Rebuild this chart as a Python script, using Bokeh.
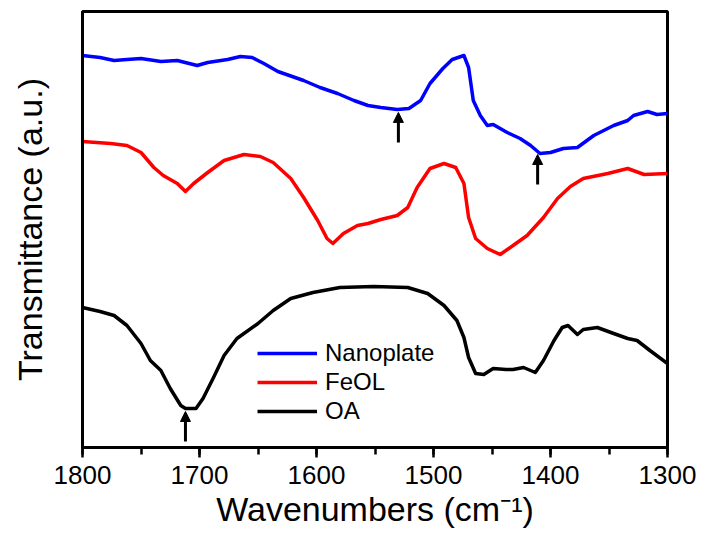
import numpy as np
from bokeh.plotting import figure
from bokeh.models import (Range1d, SingleIntervalTicker, FixedTicker, Legend, LegendItem,
                          Arrow, NormalHead)
from bokeh.embed import file_html
from bokeh.resources import INLINE

# ---- data (wavenumber in cm^-1, transmittance in a.u.) ----
nano_wn = [1800, 1785, 1773, 1762, 1750, 1733, 1719, 1702, 1693, 1676, 1665, 1655, 1645, 1633,
           1611, 1597, 1582, 1568, 1556, 1545, 1531, 1521, 1511, 1503, 1492, 1484, 1474, 1470,
           1466, 1460, 1454, 1449, 1437, 1426, 1417, 1409, 1400, 1389, 1377, 1363, 1346, 1334,
           1329, 1317, 1309, 1300]
nano_t = [3.92, 3.90, 3.87, 3.88, 3.89, 3.86, 3.87, 3.82, 3.85, 3.88, 3.91, 3.90, 3.84, 3.76,
          3.67, 3.60, 3.54, 3.47, 3.42, 3.40, 3.38, 3.39, 3.47, 3.64, 3.79, 3.88, 3.92, 3.80,
          3.47, 3.32, 3.22, 3.23, 3.15, 3.09, 3.02, 2.94, 2.95, 2.99, 3.00, 3.12, 3.22, 3.27,
          3.32, 3.36, 3.33, 3.34]

feol_wn = [1800, 1776, 1762, 1750, 1739, 1731, 1719, 1712, 1705, 1693, 1679, 1662, 1648, 1637,
           1622, 1611, 1599, 1591, 1586, 1577, 1565, 1556, 1545, 1531, 1522, 1514, 1503, 1491,
           1481, 1474, 1470, 1464, 1454, 1443, 1432, 1420, 1406, 1394, 1383, 1372, 1351, 1334,
           1320, 1300]
feol_t = [3.06, 3.04, 3.02, 2.95, 2.80, 2.72, 2.64, 2.56, 2.64, 2.75, 2.87, 2.93, 2.91, 2.85,
          2.69, 2.50, 2.27, 2.09, 2.04, 2.14, 2.22, 2.24, 2.28, 2.32, 2.40, 2.60, 2.79, 2.84,
          2.80, 2.64, 2.30, 2.09, 1.99, 1.93, 2.02, 2.12, 2.30, 2.49, 2.61, 2.69, 2.74, 2.79,
          2.73, 2.74]

oa_wn = [1800, 1785, 1773, 1762, 1750, 1742, 1733, 1725, 1716, 1712, 1703, 1697, 1688, 1679,
         1668, 1650, 1637, 1622, 1603, 1580, 1551, 1522, 1505, 1491, 1480, 1474, 1470, 1464,
         1457, 1449, 1438, 1432, 1423, 1413, 1406, 1397, 1390, 1385, 1377, 1372, 1360, 1346,
         1334, 1326, 1315, 1300]
oa_t = [1.40, 1.36, 1.32, 1.22, 1.04, 0.87, 0.77, 0.59, 0.42, 0.39, 0.39, 0.49, 0.70, 0.92,
        1.09, 1.24, 1.37, 1.49, 1.55, 1.60, 1.61, 1.60, 1.54, 1.42, 1.27, 1.10, 0.90, 0.74,
        0.73, 0.79, 0.78, 0.78, 0.80, 0.75, 0.87, 1.07, 1.20, 1.22, 1.13, 1.18, 1.20, 1.14,
        1.09, 1.07, 0.97, 0.84]

series_names = ["Nanoplate", "FeOL", "OA"]
series_colors = ["#0000ff", "#ff0000", "#000000"]

# arrows marking peaks: (series index, wavenumber)
arrow_series = [0, 0, 2]
arrow_wn = [1530, 1411, 1712]

FONT = "Liberation Sans"

p = figure(width=702, height=539, output_backend="svg", toolbar_location=None,
           x_range=Range1d(1800, 1300), y_range=Range1d(0, 4.36),
           min_border_left=82, min_border_right=35, min_border_top=11, min_border_bottom=92)
p.grid.visible = False
p.background_fill_color = "white"
p.border_fill_color = "white"
p.outline_line_color = "black"
p.outline_line_width = 3

data = [(nano_wn, nano_t), (feol_wn, feol_t), (oa_wn, oa_t)]
renderers = []
for (wn, t), c in zip(data, series_colors):
    r = p.line(wn, t, line_color=c, line_width=3.5, line_join="round")
    renderers.append(r)

# arrows
for si, w in zip(arrow_series, arrow_wn):
    wn, t = data[si]
    yc = float(np.interp(w, wn[::-1], t[::-1]))
    p.add_layout(Arrow(end=NormalHead(size=10, fill_color="black", line_color="black", line_width=1),
                       x_start=w, y_start=yc - 0.33, x_end=w, y_end=yc - 0.03,
                       line_color="black", line_width=3))

# x axis
xa = p.xaxis[0]
xa.ticker = SingleIntervalTicker(interval=100, num_minor_ticks=2)
xa.axis_line_width = 3
xa.axis_line_color = "black"
xa.major_tick_line_width = 2.5
xa.minor_tick_line_width = 2.5
xa.major_tick_in = 0
xa.major_tick_out = 10
xa.minor_tick_in = 0
xa.minor_tick_out = 7
xa.major_label_text_font = FONT
xa.major_label_text_font_size = "26px"
xa.major_label_text_color = "black"
xa.major_label_standoff = 8
xa.axis_label = "Wavenumbers (cm\u207b\u00b9)"
xa.axis_label_text_font = FONT
xa.axis_label_text_font_size = "34px"
xa.axis_label_text_font_style = "normal"
xa.axis_label_text_color = "black"
xa.axis_label_standoff = 3

# y axis (no ticks)
ya = p.yaxis[0]
ya.ticker = FixedTicker(ticks=[])
ya.axis_line_width = 3
ya.axis_line_color = "black"
ya.major_tick_line_color = None
ya.minor_tick_line_color = None
ya.axis_label = "Transmittance (a.u.)"
ya.axis_label_text_font = FONT
ya.axis_label_text_font_size = "34px"
ya.axis_label_text_font_style = "normal"
ya.axis_label_text_color = "black"
ya.axis_label_standoff = 34

legend = Legend(items=[LegendItem(label=n, renderers=[r]) for n, r in zip(series_names, renderers)],
                location=(175, 22), border_line_color=None, background_fill_alpha=0,
                padding=0, margin=0, spacing=1, glyph_width=60, glyph_height=28,
                label_height=28, label_standoff=8,
                label_text_font=FONT, label_text_font_size="24px", label_text_color="black")
p.add_layout(legend)

open("out.html", "w").write(file_html(p, INLINE))
